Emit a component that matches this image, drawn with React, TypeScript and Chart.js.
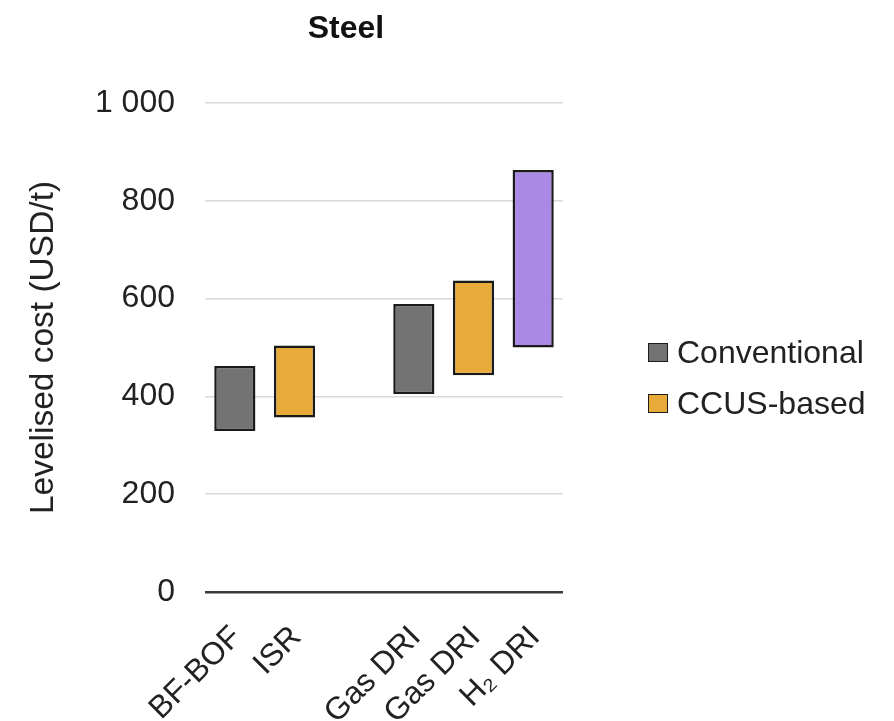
import React, { useEffect, useRef } from "react";
import { Chart, registerables } from "chart.js";

Chart.register(...registerables);

const FONT = "'Liberation Sans', Arial, Helvetica, sans-serif";

const chartTitle = "Steel";
const yAxisTitle = "Levelised cost (USD/t)";
const categories = ["BF-BOF", "ISR", "", "Gas DRI", "Gas DRI", "H\u2082 DRI"];
const yTicks = [0, 200, 400, 600, 800, 1000];

// Floating ranges [low, high] in USD/t; null = no bar in that category
const conventional: ([number, number] | null)[] = [[329, 462], null, null, [405, 589], null, null];
const ccusBased: ([number, number] | null)[] = [null, [357, 504], null, null, [443, 637], null];
const hydrogen: ([number, number] | null)[] = [null, null, null, null, null, [500, 863]];

const seriesNames = ["Conventional", "CCUS-based", "Hydrogen"];
const seriesColors = ["#737373", "#E8AB3A", "#A988E6"];
const legendSeries = [0, 1];

const formatTick = (v: number) => String(v).replace(/\B(?=(\d{3})+(?!\d))/g, " ");

export default function App() {
  const canvasRef = useRef<HTMLCanvasElement | null>(null);

  useEffect(() => {
    if (!canvasRef.current) return;
    const seriesData = [conventional, ccusBased, hydrogen];
    const chart = new Chart(canvasRef.current, {
      type: "bar",
      data: {
        labels: categories,
        datasets: seriesData.map((d, i) => ({
          label: seriesNames[i],
          data: d as any,
          backgroundColor: seriesColors[i],
          borderColor: "#1a1a1a",
          borderWidth: 2.5,
          borderSkipped: false,
          barPercentage: 0.69,
          categoryPercentage: 1,
          skipNull: true,
        })),
      },
      options: {
        animation: false,
        responsive: true,
        maintainAspectRatio: false,
        layout: { padding: { top: 103, right: 331, bottom: 0, left: 0 } },
        plugins: {
          legend: { display: false },
          title: { display: false },
          tooltip: { enabled: false },
        },
        scales: {
          x: {
            grid: { display: false },
            border: { display: false },
            ticks: {
              autoSkip: false,
              maxRotation: 45,
              minRotation: 45,
              padding: 19,
              labelOffset: 2,
              color: "#222",
              font: { family: FONT, size: 31.5 },
            },
            afterFit: (s: any) => {
              s.height = 129;
            },
          },
          y: {
            min: 0,
            max: 1000,
            afterBuildTicks: (s: any) => {
              s.ticks = yTicks.map((v) => ({ value: v }));
            },
            border: { display: false },
            grid: {
              drawTicks: false,
              color: (ctx: any) => (ctx.tick && ctx.tick.value === 0 ? "#3a3a3a" : "#d9d9d9"),
              lineWidth: (ctx: any) => (ctx.tick && ctx.tick.value === 0 ? 2.5 : 1.5),
            },
            ticks: {
              padding: 30,
              color: "#222",
              font: { family: FONT, size: 32 },
              callback: (v: any) => formatTick(Number(v)),
            },
            title: {
              display: true,
              text: yAxisTitle,
              color: "#222",
              font: { family: FONT, size: 33.5 },
              padding: { top: 24, bottom: 0 },
            },
            afterFit: (s: any) => {
              s.width = 205;
            },
          },
        },
      },
    });
    return () => chart.destroy();
  }, []);

  return (
    <div style={{ position: "absolute", left: 0, top: 0, width: 894, height: 721, background: "#fff", fontFamily: FONT }}>
      <canvas ref={canvasRef} />
      <div
        style={{
          position: "absolute",
          left: 246,
          top: 11,
          width: 200,
          textAlign: "center",
          fontSize: 32,
          lineHeight: "32px",
          fontWeight: "bold",
          color: "#111",
        }}
      >
        {chartTitle}
      </div>
      {legendSeries.map((si, k) => (
        <div
          key={si}
          style={{
            position: "absolute",
            left: 648,
            top: 336 + k * 51,
            height: 32,
            display: "flex",
            alignItems: "center",
            fontSize: 32,
            lineHeight: "32px",
            color: "#222",
            whiteSpace: "nowrap",
          }}
        >
          <span
            style={{
              display: "inline-block",
              width: 20,
              height: 19,
              boxSizing: "border-box",
              border: "1.5px solid #1c1c1c",
              background: seriesColors[si],
              marginRight: 9,
            }}
          />
          <span>{seriesNames[si]}</span>
        </div>
      ))}
    </div>
  );
}
